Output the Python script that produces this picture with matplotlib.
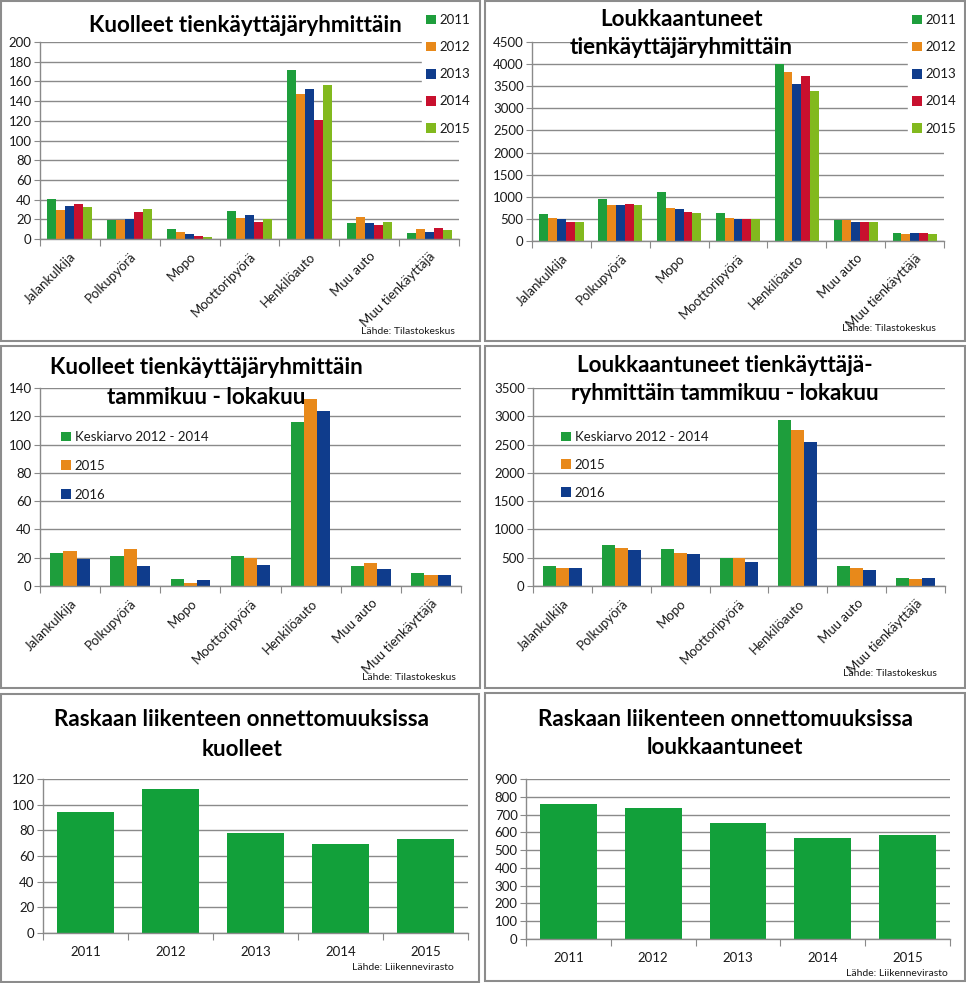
import matplotlib
matplotlib.use("Agg")
import matplotlib.pyplot as plt
from matplotlib.patches import Rectangle, Patch
import numpy as np

plt.rcParams['font.family'] = ['Lato', 'DejaVu Sans']

W, H = 966, 983

categories = ["Jalankulkija", "Polkupyörä", "Mopo", "Moottoripyörä",
              "Henkilöauto", "Muu auto", "Muu tienkäyttäjä"]
years5 = ["2011", "2012", "2013", "2014", "2015"]
colors5 = ["#1e9e3c", "#e8891a", "#0f3c8c", "#c8102e", "#82b91e"]

# Kuolleet tienkäyttäjäryhmittäin (rows: years 2011..2015)
dead_2011 = [41, 19, 10, 28, 172, 16, 6]
dead_2012 = [29, 19, 7, 21, 147, 22, 10]
dead_2013 = [34, 20, 5, 24, 152, 16, 7]
dead_2014 = [36, 27, 3, 17, 121, 14, 11]
dead_2015 = [32, 30, 2, 20, 156, 17, 9]

# Loukkaantuneet tienkäyttäjäryhmittäin
inj_2011 = [610, 950, 1100, 630, 4000, 470, 180]
inj_2012 = [510, 810, 750, 510, 3830, 470, 160]
inj_2013 = [500, 810, 720, 500, 3540, 440, 180]
inj_2014 = [420, 830, 650, 500, 3720, 430, 180]
inj_2015 = [440, 810, 630, 500, 3400, 430, 160]

# Tammikuu - lokakuu
series3 = ["Keskiarvo 2012 - 2014", "2015", "2016"]
colors3 = ["#1e9e3c", "#e8891a", "#0f3c8c"]
dead_avg = [23, 21, 5, 21, 116, 14, 9]
dead_15 = [25, 26, 2, 20, 132, 16, 8]
dead_16 = [19, 14, 4, 15, 124, 12, 8]
inj_avg = [350, 720, 660, 500, 2940, 350, 150]
inj_15 = [310, 670, 580, 500, 2750, 310, 130]
inj_16 = [310, 630, 560, 420, 2540, 290, 150]

# Raskaan liikenteen onnettomuudet
heavy_years = ["2011", "2012", "2013", "2014", "2015"]
heavy_dead = [94, 112, 78, 69, 73]
heavy_inj = [762, 735, 652, 570, 585]
bar_green = "#12a03a"

fig = plt.figure(figsize=(W / 100, H / 100), dpi=100)
fig.patch.set_facecolor("white")

TXT = "#1a1a1a"
GRID = "#8a8a8a"


def fx(x):
    return x / W


def fy(y):
    return 1 - y / H


def frame(x0, y0, x1, y1):
    fig.patches.append(Rectangle((fx(x0), fy(y1)), (x1 - x0) / W, (y1 - y0) / H,
                                 transform=fig.transFigure, fill=False,
                                 edgecolor="#8c8c8c", linewidth=1.5, zorder=0))


def make_ax(x0, y0, x1, y1):
    ax = fig.add_axes([fx(x0), fy(y1), (x1 - x0) / W, (y1 - y0) / H])
    ax.set_facecolor("none")
    for s in ["top", "right"]:
        ax.spines[s].set_visible(False)
    for s in ["left", "bottom"]:
        ax.spines[s].set_color(GRID)
        ax.spines[s].set_linewidth(1)
    ax.yaxis.grid(True, color=GRID, linewidth=1)
    ax.set_axisbelow(True)
    ax.tick_params(axis="y", colors=GRID, labelcolor=TXT, labelsize=9.5,
                   length=4, direction="out", pad=2)
    return ax


def cat_axis(ax, labels):
    n = len(labels)
    ax.set_xlim(-0.5, n - 0.5)
    ax.set_xticks(np.arange(-0.5, n, 1.0))
    ax.set_xticklabels([])
    ax.tick_params(axis="x", which="major", colors=GRID, length=5, direction="out")
    ax.set_xticks(np.arange(n), minor=True)
    ax.set_xticklabels(labels, minor=True, rotation=45, ha="right",
                       rotation_mode="anchor", fontsize=9.5, color=TXT)
    ax.tick_params(axis="x", which="minor", length=0, pad=8)


def grouped(ax, data, colors, width):
    k = len(data)
    x = np.arange(len(data[0]))
    handles = []
    for i, (vals, c) in enumerate(zip(data, colors)):
        off = (i - (k - 1) / 2) * width
        b = ax.bar(x + off, vals, width=width, color=c, zorder=2)
        handles.append(b)
    return handles


def title(lines, cx, ys, size=16.2):
    for t, y in zip(lines, ys):
        fig.text(fx(cx), fy(y), t, ha="center", va="center", fontsize=size,
                 fontweight="bold", color="black", zorder=10)


def source(t, xr, y):
    fig.text(fx(xr), fy(y), t, ha="right", va="center", fontsize=7.5,
             color=TXT, zorder=10)


def legend(labels, colors, x, ytop, spacing):
    hs = [Patch(facecolor=c, edgecolor="none") for c in colors]
    leg = fig.legend(hs, labels, loc="upper left",
                     bbox_to_anchor=(fx(x), fy(ytop)), frameon=True,
                     facecolor="white", edgecolor="white", framealpha=1,
                     fontsize=9.5, handlelength=0.75, handleheight=0.75,
                     handletextpad=0.3, labelspacing=spacing, borderpad=0.3,
                     borderaxespad=0)
    for t in leg.get_texts():
        t.set_color(TXT)
    return leg


# Frames
frame(1, 1, 480, 341)
frame(485, 1, 965, 341)
frame(1, 346, 480, 688)
frame(485, 346, 965, 688)
frame(1, 694, 479, 982)
frame(485, 693, 965, 981)

# Panel 1
ax1 = make_ax(40, 42, 459, 239)
grouped(ax1, [dead_2011, dead_2012, dead_2013, dead_2014, dead_2015], colors5, 0.15)
ax1.set_ylim(0, 200)
ax1.set_yticks(np.arange(0, 201, 20))
cat_axis(ax1, categories)
title(["Kuolleet tienkäyttäjäryhmittäin"], 245, [25])
legend(years5, colors5, 422, 10, 1.15)
source("Lähde: Tilastokeskus", 455, 332)

# Panel 2
ax2 = make_ax(532, 42, 944, 241)
grouped(ax2, [inj_2011, inj_2012, inj_2013, inj_2014, inj_2015], colors5, 0.15)
ax2.set_ylim(0, 4500)
ax2.set_yticks(np.arange(0, 4501, 500))
cat_axis(ax2, categories)
title(["Loukkaantuneet", "tienkäyttäjäryhmittäin"], 681, [19, 48])
legend(years5, colors5, 908, 10, 1.15)
source("Lähde: Tilastokeskus", 936, 329)

# Panel 3
ax3 = make_ax(40, 388, 461, 586)
grouped(ax3, [dead_avg, dead_15, dead_16], colors3, 0.22)
ax3.set_ylim(0, 140)
ax3.set_yticks(np.arange(0, 141, 20))
cat_axis(ax3, categories)
title(["Kuolleet tienkäyttäjäryhmittäin", "tammikuu - lokakuu"], 206, [368, 397])
legend(series3, colors3, 57, 427, 1.28).set_frame_on(False)
source("Lähde: Tilastokeskus", 456, 678)

# Panel 4
ax4 = make_ax(533, 388, 945, 586)
grouped(ax4, [inj_avg, inj_15, inj_16], colors3, 0.22)
ax4.set_ylim(0, 3500)
ax4.set_yticks(np.arange(0, 3501, 500))
cat_axis(ax4, categories)
title(["Loukkaantuneet tienkäyttäjä-", "ryhmittäin tammikuu - lokakuu"], 725, [365, 394])
legend(series3, colors3, 557, 427, 1.2).set_frame_on(False)
source("Lähde: Tilastokeskus", 937, 674)


def year_axis(ax, labels):
    n = len(labels)
    ax.set_xlim(-0.5, n - 0.5)
    ax.set_xticks(np.arange(-0.5, n, 1.0))
    ax.set_xticklabels([])
    ax.tick_params(axis="x", which="major", colors=GRID, length=5, direction="out")
    ax.set_xticks(np.arange(n), minor=True)
    ax.set_xticklabels(labels, minor=True, fontsize=9.5, color=TXT)
    ax.tick_params(axis="x", which="minor", length=0, pad=9)


# Panel 5
ax5 = make_ax(43, 779, 468, 933)
ax5.bar(np.arange(len(heavy_dead)), heavy_dead, width=0.67, color=bar_green, zorder=2)
ax5.set_ylim(0, 120)
ax5.set_yticks(np.arange(0, 121, 20))
year_axis(ax5, heavy_years)
title(["Raskaan liikenteen onnettomuuksissa", "kuolleet"], 242, [720, 749])
source("Lähde: Liikennevirasto", 454, 968)

# Panel 6
ax6 = make_ax(526, 779, 950, 939)
ax6.bar(np.arange(len(heavy_inj)), heavy_inj, width=0.67, color=bar_green, zorder=2)
ax6.set_ylim(0, 900)
ax6.set_yticks(np.arange(0, 901, 100))
year_axis(ax6, heavy_years)
title(["Raskaan liikenteen onnettomuuksissa", "loukkaantuneet"], 725, [719, 748])
source("Lähde: Liikennevirasto", 948, 973)

fig.savefig("out.png", dpi=100, facecolor="white")
